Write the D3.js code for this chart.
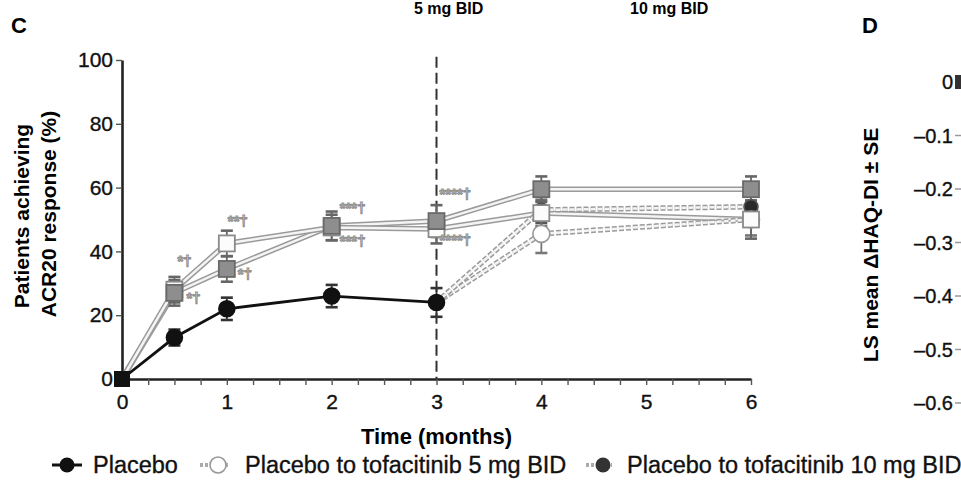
<!DOCTYPE html>
<html>
<head>
<meta charset="utf-8">
<script src="https://cdn.jsdelivr.net/npm/d3@7"></script>
<style>
  html, body { margin: 0; padding: 0; background: #fff; }
  svg { display: block; font-family: "Liberation Sans", Arial, Helvetica, sans-serif; }
</style>
</head>
<body>
<svg id="chart" width="961" height="480"></svg>
<script>
// ---------------- data ----------------
const monthTicks = [0, 1, 2, 3, 4, 5, 6];
const yTicks = [0, 20, 40, 60, 80, 100];
const months = [0, 0.5, 1, 2, 3, 4, 6];
const placeboMonths = [0, 0.5, 1, 2, 3];
const placebo = [0, 13, 22, 26, 24];
const placeboErr = [0, 2.5, 3.5, 3.5, 4.5];
const tofa5 = [0, 28, 42.5, 47.5, 47, 52, 50];
const tofa5Err = [0, 4, 4, 4, 4.5, 4, 6];
const tofa10 = [0, 27, 34.5, 48, 49.5, 59.5, 59.5];
const tofa10Err = [0, 4, 4, 4.5, 5, 4, 4];
const switchMonths = [3, 4, 6];
const pboTo5 = [24, 45.5, 50];
const pboTo5Err = [4.5, 6, 5];
const pboTo10 = [24, 53, 54];
const pboTo10Err = [4.5, 4, 4];
const annoMonths = [0.5, 0.5, 1, 1, 2, 2, 3, 3];
const annoValues = [37.3, 25.7, 49.8, 33.2, 53.9, 43.6, 58.3, 43.9];
const annoLabels = ["*†", "*†", "**†", "*†", "***†", "***†", "****†", "****†"];
const legendLabels = ["Placebo", "Placebo to tofacitinib 5 mg BID", "Placebo to tofacitinib 10 mg BID"];
const topLabels = ["5 mg BID", "10 mg BID"];
const panelDTicks = [0, -0.1, -0.2, -0.3, -0.4, -0.5, -0.6];

// ---------------- drawing ----------------
const svg = d3.select("#chart");
const x = d3.scaleLinear().domain([0, 6]).range([122, 751]);
const y = d3.scaleLinear().domain([0, 100]).range([379, 60]);
const heavy = sel => sel.attr("stroke", "#111").attr("stroke-width", 0.35);

// panel letters / cropped headers
svg.append("text").attr("x", 11).attr("y", 33).attr("font-size", 22).attr("font-weight", "bold").text("C");
svg.append("text").attr("x", 862).attr("y", 33).attr("font-size", 22).attr("font-weight", "bold").text("D");
const topX = [414, 630];
topLabels.forEach((t, i) => {
  svg.append("text").attr("x", topX[i]).attr("y", 14).attr("font-size", 16).attr("font-weight", "bold").text(t);
});

// y axis title
const yt = svg.append("g").attr("font-size", 21).attr("font-weight", "bold").attr("text-anchor", "middle");
yt.append("text").attr("transform", "translate(29,216) rotate(-90)").text("Patients achieving");
yt.append("text").attr("transform", "translate(56,214) rotate(-90)").text("ACR20 response (%)");

// x axis
const minor = d3.range(0, 6.001, 0.25);
const xAxis = d3.axisBottom(x).tickValues(minor).tickSize(6).tickSizeOuter(0)
  .tickFormat(d => monthTicks.includes(d) ? d : "");
const gx = svg.append("g").attr("transform", `translate(0,${y(0)})`).call(xAxis);
gx.select(".domain").attr("stroke", "#222").attr("stroke-width", 2.6);
gx.selectAll(".tick line").attr("stroke", "#555").attr("stroke-width", 1.4);
gx.selectAll(".tick text").attr("font-size", 21).attr("fill", "#111").attr("dy", "1.0em")
  .attr("font-family", "Liberation Sans, Arial, sans-serif").call(heavy);
svg.append("text").attr("x", x(3)).attr("y", 444).attr("text-anchor", "middle")
  .attr("font-size", 22).attr("font-weight", "bold").text("Time (months)");

// y axis
const yAxis = d3.axisLeft(y).tickValues(yTicks).tickSize(6).tickSizeOuter(0);
const gy = svg.append("g").attr("transform", `translate(${x(0)},0)`).call(yAxis);
gy.select(".domain").attr("stroke", "#222").attr("stroke-width", 2.6);
gy.selectAll(".tick line").attr("stroke", "#555").attr("stroke-width", 1.4);
gy.selectAll(".tick text").attr("font-size", 21).attr("fill", "#111").attr("x", -9)
  .attr("font-family", "Liberation Sans, Arial, sans-serif").call(heavy);

// dashed vertical line at month 3
svg.append("line").attr("x1", x(3)).attr("x2", x(3)).attr("y1", y(101)).attr("y2", y(0))
  .attr("stroke", "#333").attr("stroke-width", 2).attr("stroke-dasharray", "11,5");

// lines
const line = d3.line().x(d => x(d[0])).y(d => y(d[1]));
function ghostLine(pts, dotted) {
  const g = svg.append("g");
  g.append("path").attr("d", line(pts)).attr("fill", "none").attr("stroke", "#9a9a9a").attr("stroke-width", 5.5)
    .attr("stroke-dasharray", dotted ? "5,2" : null);
  g.append("path").attr("d", line(pts)).attr("fill", "none").attr("stroke", "#f4f4f4").attr("stroke-width", 2.5)
    .attr("stroke-dasharray", dotted ? "5,2" : null);
}
ghostLine(months.map((m, i) => [m, tofa10[i]]), false);
ghostLine(months.map((m, i) => [m, tofa5[i]]), false);
ghostLine(switchMonths.map((m, i) => [m, pboTo5[i]]), true);
ghostLine(switchMonths.map((m, i) => [m, pboTo10[i]]), true);
svg.append("path").attr("d", line(placeboMonths.map((m, i) => [m, placebo[i]])))
  .attr("fill", "none").attr("stroke", "#111").attr("stroke-width", 2.8);

// error bars
function errBars(ms, vals, errs, color) {
  const g = svg.append("g").attr("stroke", color).attr("stroke-width", 1.8);
  ms.forEach((m, i) => {
    if (!errs[i]) return;
    const cx = x(m), y1 = y(vals[i] + errs[i]), y2 = y(vals[i] - errs[i]);
    g.append("line").attr("x1", cx).attr("x2", cx).attr("y1", y1).attr("y2", y2);
    g.append("line").attr("x1", cx - 6).attr("x2", cx + 6).attr("y1", y1).attr("y2", y1).attr("stroke-width", 2.6);
    g.append("line").attr("x1", cx - 6).attr("x2", cx + 6).attr("y1", y2).attr("y2", y2).attr("stroke-width", 2.6);
  });
}
errBars(switchMonths.slice(1), pboTo10.slice(1), pboTo10Err.slice(1), "#555");
errBars(switchMonths.slice(1), pboTo5.slice(1), pboTo5Err.slice(1), "#777");
errBars(months, tofa5, tofa5Err, "#666");
errBars(months, tofa10, tofa10Err, "#666");
errBars(placeboMonths, placebo, placeboErr, "#333");

// markers
function circles(ms, vals, r, fill, stroke) {
  svg.append("g").selectAll("circle").data(ms).join("circle")
    .attr("cx", d => x(d)).attr("cy", (d, i) => y(vals[i])).attr("r", r)
    .attr("fill", fill).attr("stroke", stroke).attr("stroke-width", 1.6);
}
function squares(ms, vals, s, fill, stroke) {
  svg.append("g").selectAll("rect").data(ms).join("rect")
    .attr("x", d => x(d) - s / 2).attr("y", (d, i) => y(vals[i]) - s / 2).attr("width", s).attr("height", s)
    .attr("fill", fill).attr("stroke", stroke).attr("stroke-width", 1.8);
}
circles(switchMonths.slice(1), pboTo10.slice(1), 7, "#2a2a2a", "#555");
circles(switchMonths.slice(1), pboTo5.slice(1), 8.5, "#fff", "#999");
squares(months.slice(1), tofa5.slice(1), 16, "#fcfcfc", "#8a8a8a");
squares(months.slice(1), tofa10.slice(1), 16, "#8e8e8e", "#6a6a6a");
circles(placeboMonths.slice(1), placebo.slice(1), 8, "#111", "#111");
svg.append("rect").attr("x", x(0) - 8).attr("y", y(0) - 8).attr("width", 16).attr("height", 16).attr("fill", "#111");

// annotations
const annoDx = [3, 12, 1, 11, 8, 8, 3, 3];
svg.append("g").attr("font-size", 15).attr("font-weight", "bold").attr("fill", "#fafafa")
  .attr("stroke", "#8f8f8f").attr("stroke-width", 1)
  .selectAll("text").data(annoLabels).join("text")
  .attr("x", (d, i) => x(annoMonths[i]) + annoDx[i]).attr("y", (d, i) => y(annoValues[i]) + 6).text(d => d);

// legend
const lg = svg.append("g").attr("font-size", 23.5);
const legY = 465;
lg.append("line").attr("x1", 52).attr("x2", 82).attr("y1", legY).attr("y2", legY).attr("stroke", "#111").attr("stroke-width", 3);
lg.append("circle").attr("cx", 67).attr("cy", legY).attr("r", 7.5).attr("fill", "#111");
lg.append("line").attr("x1", 200).attr("x2", 228).attr("y1", legY).attr("y2", legY).attr("stroke", "#aaa").attr("stroke-width", 4).attr("stroke-dasharray", "3,2");
lg.append("circle").attr("cx", 218).attr("cy", legY).attr("r", 8).attr("fill", "#fff").attr("stroke", "#999").attr("stroke-width", 1.6);
lg.append("line").attr("x1", 586).attr("x2", 612).attr("y1", legY).attr("y2", legY).attr("stroke", "#aaa").attr("stroke-width", 4).attr("stroke-dasharray", "3,2");
lg.append("circle").attr("cx", 603).attr("cy", legY).attr("r", 7.5).attr("fill", "#333");
const legX = [93, 245, 627];
legendLabels.forEach((t, i) => {
  lg.append("text").attr("x", legX[i]).attr("y", legY + 8).attr("fill", "#111").call(heavy).text(t);
});

// panel D (partial)
const yD = d3.scaleLinear().domain([0, -0.6]).range([82, 403]);
const gD = svg.append("g").attr("font-size", 20).attr("fill", "#111");
gD.selectAll("text").data(panelDTicks).join("text")
  .attr("x", 953).attr("y", d => yD(d)).attr("dy", "0.36em").attr("text-anchor", "end").call(heavy)
  .text(d => d === 0 ? "0" : "\u2013" + Math.abs(d).toFixed(1));
svg.append("g").selectAll("line").data(panelDTicks.slice(1)).join("line")
  .attr("x1", 955).attr("x2", 961).attr("y1", d => yD(d)).attr("y2", d => yD(d))
  .attr("stroke", "#999").attr("stroke-width", 1.5);
svg.append("rect").attr("x", 955).attr("y", yD(0) - 7).attr("width", 8).attr("height", 14).attr("fill", "#333");
svg.append("text").attr("transform", "translate(878,245) rotate(-90)").attr("text-anchor", "middle")
  .attr("font-size", 21).attr("font-weight", "bold").text("LS mean \u0394HAQ-DI \u00b1 SE");
</script>
</body>
</html>
